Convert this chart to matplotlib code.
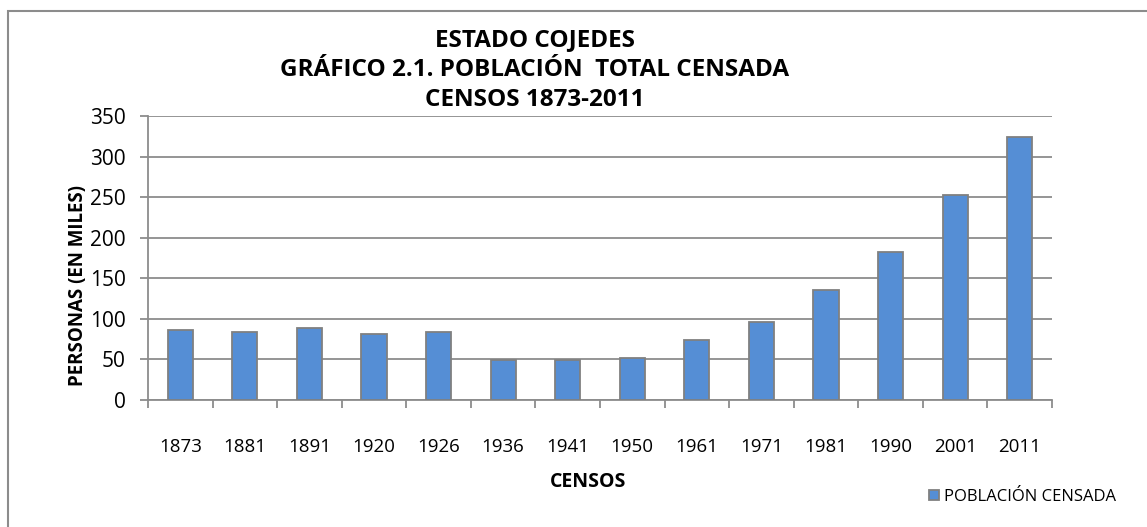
import matplotlib

matplotlib.use("Agg")

import matplotlib.pyplot as plt
import numpy as np
from matplotlib.patches import Rectangle

plt.rcParams["font.family"] = ["Open Sans", "DejaVu Sans"]

censos = ["1873", "1881", "1891", "1920", "1926", "1936", "1941",
          "1950", "1961", "1971", "1981", "1990", "2001", "2011"]
poblacion = [86.2, 83.8, 88.7, 81.3, 83.8, 49.3, 49.3,
             51.7, 73.9, 96.1, 135.5, 182.3, 253.0, 324.4]

BAR = "#558ED5"
EDGE = "#808080"
GRID = "#8C8C8C"

W, H = 1147, 527
fig = plt.figure(figsize=(W / 100, H / 100), dpi=100)
ax = fig.add_axes([148 / W, 1 - 400 / H, (1052 - 148) / W, (400 - 116) / H])

x = np.arange(len(censos))
ax.bar(x, poblacion, width=0.39, color=BAR, edgecolor=EDGE, linewidth=1.3,
       zorder=3, label="POBLACIÓN CENSADA")

ax.set_xlim(-0.5, len(censos) - 0.5)
ax.set_ylim(0, 350)
ax.set_yticks(np.arange(0, 351, 50))
ax.yaxis.grid(True, color=GRID, linewidth=1.3, zorder=0)

ax.set_xticks(x, labels=censos)
ax.set_xticks(np.arange(-0.5, len(censos), 1), minor=True)
ax.tick_params(axis="x", which="major", length=0, pad=27, labelsize=13.5)
ax.tick_params(axis="x", which="minor", length=6, color=GRID, width=1.3)
ax.tick_params(axis="y", length=6, color=GRID, width=1.3, labelsize=15, pad=10)

for side in ["top", "right"]:
    ax.spines[side].set_visible(False)
for side in ["left", "bottom"]:
    ax.spines[side].set_color(GRID)
    ax.spines[side].set_linewidth(1.3)

fig.text(78 / W, 1 - 285 / H, "PERSONAS (EN MILES)", fontsize=13.5, fontweight="bold",
         rotation=90, ha="center", va="center")
fig.text(588 / W, 1 - 482 / H, "CENSOS", fontsize=14, fontweight="bold",
         ha="center", va="center")

titles = ["ESTADO COJEDES", "GRÁFICO 2.1. POBLACIÓN  TOTAL CENSADA", "CENSOS 1873-2011"]
for i, t in enumerate(titles):
    fig.text(535 / W, 1 - (40 + 30 * i) / H, t, fontsize=17.5, fontweight="bold",
             ha="center", va="center")

ax.legend(loc="center left", bbox_to_anchor=(921 / W, 1 - 497 / H),
          bbox_transform=fig.transFigure, frameon=False, fontsize=12,
          handlelength=0.6, handleheight=0.6, handletextpad=0.3, borderpad=0)

fig.patches.append(Rectangle((8 / W, -0.05), 1.1, 1 - 11 / H + 0.05,
                             transform=fig.transFigure, fill=False,
                             edgecolor=GRID, linewidth=1.5))

fig.savefig("out.png", dpi=100)
